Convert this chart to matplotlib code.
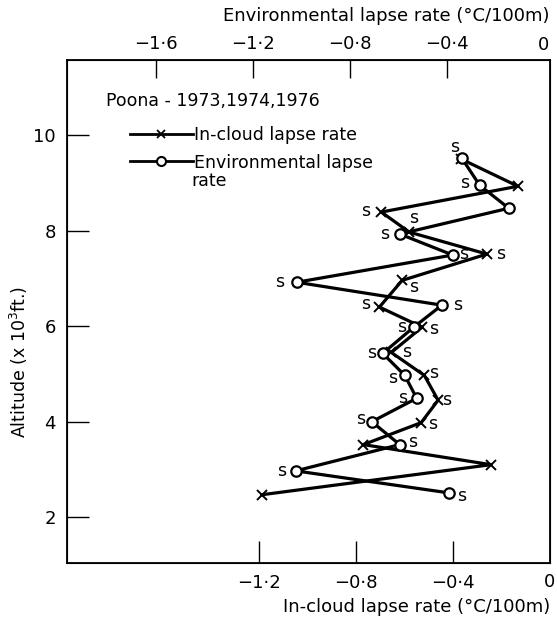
import matplotlib
matplotlib.use("Agg")
import matplotlib.pyplot as plt
from matplotlib.lines import Line2D

# in-cloud lapse rate (x)
cloud_alt = [9.50, 8.93, 8.39, 7.97, 7.51, 6.96, 6.40, 5.98, 5.45, 4.97, 4.45, 3.98, 3.52, 3.10, 2.47]
cloud_rate = [-0.365, -0.131, -0.694, -0.579, -0.259, -0.608, -0.702, -0.526, -0.653, -0.517,
              -0.460, -0.530, -0.768, -0.242, -1.187]
cloud_sig = [False, False, True, True, True, True, True, True, True, True, True, True, False, False, False]

# environmental lapse rate (o)
env_alt = [9.52, 8.95, 8.47, 7.93, 7.49, 6.92, 6.44, 5.98, 5.43, 4.97, 4.49, 4.00, 3.52, 2.97, 2.51]
env_rate = [-0.338, -0.264, -0.144, -0.594, -0.375, -1.019, -0.420, -0.536, -0.664, -0.573,
            -0.524, -0.709, -0.594, -1.023, -0.392]
env_sig = [True, True, False, True, True, True, True, True, True, True, True, True, True, True, True]

bottom_ticks = [-1.2, -0.8, -0.4, 0]
bottom_labels = ["\u22121\u00b72", "\u22120\u00b78", "\u22120\u00b74", "0"]
top_ticks = [-1.6, -1.2, -0.8, -0.4, 0]
top_labels = ["\u22121\u00b76", "\u22121\u00b72", "\u22120\u00b78", "\u22120\u00b74", "0"]
alt_ticks = [2, 4, 6, 8, 10]

# offsets (points) of the "s" marks next to each point
cloud_off = [(0, 0), (0, 0), (-11, 1), (3, 10), (10, 0), (8, -5), (-10, 2), (8, -1),
             (11, 0), (7, 2), (6, 0), (8, -1), (0, 0), (0, 0), (0, 0)]
env_off = [(-5, 8), (-11, 2), (0, 0), (-11, 0), (8, 1), (-12, 0), (11, 0), (-9, 0),
           (-8, 0), (-9, -2), (-10, 0), (-8, 2), (9, 2), (-10, 0), (9, -2)]

plt.rcParams['font.family'] = ['DejaVu Sans']
fig = plt.figure(figsize=(5.57, 6.27), dpi=100)
ax = fig.add_axes([0.120, 0.102, 0.867, 0.802])

ax.plot(cloud_rate, cloud_alt, color='black', lw=2.3, marker='x', ms=7, mew=1.4, zorder=3)
ax.set_xlim(-1.99, 0.0)
ax.set_ylim(1.04, 11.57)
ax.set_xticks(bottom_ticks[:-1])
ax.set_xticklabels(bottom_labels[:-1], fontsize=13)
ax.set_yticks(alt_ticks)
ax.set_yticklabels([str(t) for t in alt_ticks], fontsize=13)
ax.tick_params(axis='x', direction='in', length=16, width=1, pad=8)
ax.tick_params(axis='y', direction='in', length=16, width=1, pad=8)
ax.text(0.0, -0.019, "0", transform=ax.get_xaxis_transform(), ha='center', va='top', fontsize=13)
ax.set_xlabel("In-cloud lapse rate (\u00b0C/100m)", fontsize=13, labelpad=4, loc='right')
ax.set_ylabel("Altitude (x 10$^3$ft.)", fontsize=12.5)
ax.yaxis.set_label_coords(-0.077, 0.40)

ax2 = ax.twiny()
ax2.plot(env_rate, env_alt, color='black', lw=2.3, marker='o', ms=7.5, mew=1.6,
         mfc='white', zorder=3)
ax2.set_xlim(-1.967, 0.025)
ax2.set_xticks(top_ticks[:-1])
ax2.set_xticklabels(top_labels[:-1], fontsize=13)
ax2.tick_params(axis='x', direction='in', length=13, width=1, pad=5)
ax2.text(0.0, 1.012, "0", transform=ax2.get_xaxis_transform(), ha='center', va='bottom', fontsize=13)
ax2.set_xlabel("Environmental lapse rate (\u00b0C/100m)", fontsize=13, labelpad=10, loc='right')

for x, y, s, off in zip(cloud_rate, cloud_alt, cloud_sig, cloud_off):
    if s:
        ax.annotate("s", (x, y), xytext=off, textcoords='offset points',
                    ha='center', va='center', fontsize=12.5)
for x, y, s, off in zip(env_rate, env_alt, env_sig, env_off):
    if s:
        ax2.annotate("s", (x, y), xytext=off, textcoords='offset points',
                     ha='center', va='center', fontsize=12.5)

for sp in ax.spines.values():
    sp.set_linewidth(1.3)

fig.text(106 / 557, 1 - 101 / 627, "Poona - 1973,1974,1976", fontsize=12.5,
         ha='left', va='center')
handles = [Line2D([], [], color='black', lw=2, marker='x', ms=6, mew=1.3),
           Line2D([], [], color='black', lw=2, marker='o', ms=6.5, mew=1.5, mfc='white')]
leg = ax.legend(handles, ["In-cloud lapse rate", "Environmental lapse"], fontsize=12.5,
                loc='upper left', bbox_to_anchor=(130 / 557, 1 - 126 / 627),
                bbox_transform=fig.transFigure, frameon=False, borderpad=0, borderaxespad=0,
                handlelength=3.6, handletextpad=0.1, labelspacing=0.55)
fig.text(191 / 557, 1 - 181 / 627, "rate", fontsize=12.5, ha='left', va='center')

fig.savefig("out.png", dpi=100)
